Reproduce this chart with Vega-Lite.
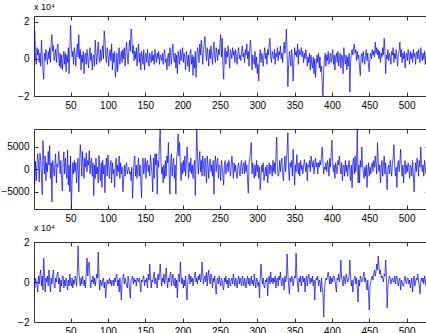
{
"$schema":"https://vega.github.io/schema/vega-lite/v6.json",
"padding":{"left":0,"top":2,"right":0,"bottom":0},
"background":"white",
"config":{
 "font":"Liberation Sans",
 "view":{"stroke":"#333333","strokeWidth":1},
 "axis":{"grid":false,"domain":false,"labelFont":"Liberation Sans","labelFontSize":10,"labelColor":"#000000","tickColor":"#333333","tickSize":-4,"title":null},
 "axisX":{"labelPadding":8},
 "axisY":{"labelPadding":9},
 "title":{"anchor":"start","frame":"group","font":"Liberation Sans","fontSize":9,"fontWeight":"normal","color":"#000000","offset":4}
},
"datasets":{"d":[
{"t":1,"a":0.2,"b":-4500,"c":0.1},{"t":2,"a":1.5,"b":-3000,"c":-0.3},{"t":3,"a":0.1,"b":1800,"c":0.2},{"t":4,"a":-0.3,"b":-2500,"c":0.0},{"t":5,"a":0.6,"b":1000,"c":-0.2},{"t":6,"a":0.2,"b":3500,"c":-0.5},{"t":7,"a":0.5,"b":1200,"c":0.3},{"t":8,"a":-0.2,"b":-2800,"c":-0.1},{"t":9,"a":0.3,"b":3600,"c":0.4},{"t":10,"a":-0.4,"b":2000,"c":0.6},
{"t":11,"a":1.0,"b":-1500,"c":-0.2},{"t":12,"a":0.2,"b":-5600,"c":0.3},{"t":13,"a":-0.6,"b":6400,"c":-0.4},{"t":14,"a":-1.1,"b":2000,"c":1.2},{"t":15,"a":0.3,"b":-1000,"c":0.4},{"t":16,"a":-0.1,"b":3000,"c":-0.5},{"t":17,"a":0.5,"b":-2500,"c":0.2},{"t":18,"a":0.1,"b":1500,"c":0.0},{"t":19,"a":-0.3,"b":-500,"c":0.3},{"t":20,"a":0.4,"b":4000,"c":-0.2},
{"t":21,"a":0.0,"b":1000,"c":0.6},{"t":22,"a":0.6,"b":5300,"c":0.1},{"t":23,"a":-0.2,"b":-2000,"c":-0.5},{"t":24,"a":0.9,"b":1500,"c":0.2},{"t":25,"a":1.3,"b":-7200,"c":-0.1},{"t":26,"a":0.4,"b":2000,"c":0.3},{"t":27,"a":0.7,"b":500,"c":0.6},{"t":28,"a":-0.1,"b":-1500,"c":-0.2},{"t":29,"a":0.2,"b":1000,"c":-0.3},{"t":30,"a":0.5,"b":3500,"c":0.2},
{"t":31,"a":-0.2,"b":-3000,"c":0.0},{"t":32,"a":0.6,"b":1200,"c":0.4},{"t":33,"a":0.8,"b":500,"c":0.5},{"t":34,"a":0.1,"b":4000,"c":-0.1},{"t":35,"a":-0.4,"b":2500,"c":0.2},{"t":36,"a":0.3,"b":-1000,"c":-0.5},{"t":37,"a":-0.5,"b":2000,"c":0.1},{"t":38,"a":0.2,"b":-2500,"c":-0.2},{"t":39,"a":-0.6,"b":-4800,"c":0.3},{"t":40,"a":0.0,"b":1500,"c":0.3},
{"t":41,"a":0.4,"b":3900,"c":-0.3},{"t":42,"a":-0.3,"b":-1000,"c":0.1},{"t":43,"a":0.3,"b":2500,"c":-0.2},{"t":44,"a":-0.7,"b":0,"c":0.2},{"t":45,"a":0.2,"b":-2000,"c":0.0},{"t":46,"a":-0.2,"b":4300,"c":-0.4},{"t":47,"a":0.6,"b":-3500,"c":0.1},{"t":48,"a":-0.8,"b":1000,"c":-0.2},{"t":49,"a":0.5,"b":-5000,"c":0.4},{"t":50,"a":1.8,"b":3000,"c":0.0},
{"t":51,"a":0.7,"b":-8700,"c":-0.2},{"t":52,"a":0.1,"b":-2500,"c":0.2},{"t":53,"a":0.4,"b":1500,"c":-0.3},{"t":54,"a":-0.3,"b":-1000,"c":0.1},{"t":55,"a":0.6,"b":2000,"c":-0.1},{"t":56,"a":0.2,"b":-500,"c":0.3},{"t":57,"a":-0.4,"b":1500,"c":0.2},{"t":58,"a":0.3,"b":-3000,"c":-0.2},{"t":59,"a":0.8,"b":500,"c":0.4},{"t":60,"a":0.1,"b":2500,"c":1.8},
{"t":61,"a":1.3,"b":-5000,"c":0.6},{"t":62,"a":0.0,"b":1000,"c":0.1},{"t":63,"a":0.5,"b":5500,"c":-0.2},{"t":64,"a":-0.6,"b":3000,"c":0.2},{"t":65,"a":0.2,"b":-1500,"c":-0.1},{"t":66,"a":-0.2,"b":4000,"c":0.3},{"t":67,"a":0.4,"b":1000,"c":0.0},{"t":68,"a":-0.8,"b":-2000,"c":-0.2},{"t":69,"a":0.2,"b":2500,"c":0.1},{"t":70,"a":0.3,"b":500,"c":-0.3},
{"t":71,"a":-0.3,"b":3700,"c":0.5},{"t":72,"a":0.5,"b":-500,"c":1.2},{"t":73,"a":0.1,"b":2000,"c":0.3},{"t":74,"a":-0.5,"b":1000,"c":0.9},{"t":75,"a":0.2,"b":4200,"c":1.0},{"t":76,"a":0.6,"b":-1000,"c":0.2},{"t":77,"a":-0.1,"b":1500,"c":-0.3},{"t":78,"a":0.3,"b":2500,"c":0.1},{"t":79,"a":-0.6,"b":-1500,"c":0.0},{"t":80,"a":0.1,"b":1500,"c":0.3},
{"t":81,"a":0.2,"b":-5800,"c":-0.1},{"t":82,"a":-0.4,"b":1000,"c":0.2},{"t":83,"a":1.0,"b":-2000,"c":-0.2},{"t":84,"a":0.3,"b":2500,"c":0.1},{"t":85,"a":-0.3,"b":-1000,"c":0.4},{"t":86,"a":0.4,"b":500,"c":0.2},{"t":87,"a":0.9,"b":-3000,"c":1.5},{"t":88,"a":0.1,"b":3100,"c":0.3},{"t":89,"a":-0.2,"b":500,"c":-0.4},{"t":90,"a":0.5,"b":-2500,"c":0.1},
{"t":91,"a":-0.1,"b":1500,"c":0.0},{"t":92,"a":0.3,"b":-4000,"c":-0.2},{"t":93,"a":0.7,"b":2000,"c":0.1},{"t":94,"a":0.0,"b":-1000,"c":0.2},{"t":95,"a":1.5,"b":1000,"c":-0.3},{"t":96,"a":1.1,"b":-5200,"c":0.0},{"t":97,"a":0.2,"b":500,"c":-0.8},{"t":98,"a":-0.2,"b":2500,"c":-0.2},{"t":99,"a":0.6,"b":-1500,"c":0.1},{"t":100,"a":0.3,"b":3200,"c":-0.1},
{"t":101,"a":-0.4,"b":1000,"c":0.0},{"t":102,"a":0.2,"b":-2000,"c":0.2},{"t":103,"a":0.5,"b":500,"c":-0.1},{"t":104,"a":-0.1,"b":2000,"c":0.1},{"t":105,"a":0.8,"b":-3000,"c":-0.2},{"t":106,"a":-0.6,"b":1500,"c":0.0},{"t":107,"a":0.3,"b":-1000,"c":0.1},{"t":108,"a":-0.2,"b":0,"c":-0.2},{"t":109,"a":0.4,"b":-4000,"c":0.2},{"t":110,"a":-1.0,"b":1000,"c":0.0},
{"t":111,"a":-0.5,"b":2500,"c":0.3},{"t":112,"a":0.3,"b":-1500,"c":0.4},{"t":113,"a":-0.7,"b":1000,"c":-0.2},{"t":114,"a":0.2,"b":-500,"c":0.1},{"t":115,"a":0.6,"b":3000,"c":-0.5},{"t":116,"a":-0.3,"b":-2000,"c":0.2},{"t":117,"a":0.1,"b":1500,"c":-0.3},{"t":118,"a":0.4,"b":-1000,"c":-0.9},{"t":119,"a":-0.2,"b":500,"c":0.1},{"t":120,"a":0.5,"b":-5000,"c":0.2},
{"t":121,"a":0.0,"b":-2500,"c":0.4},{"t":122,"a":0.6,"b":1000,"c":-0.1},{"t":123,"a":-0.4,"b":-1500,"c":0.2},{"t":124,"a":0.3,"b":500,"c":0.0},{"t":125,"a":0.9,"b":1500,"c":-0.2},{"t":126,"a":0.2,"b":-1000,"c":-0.3},{"t":127,"a":-0.3,"b":0,"c":0.3},{"t":128,"a":0.5,"b":500,"c":0.0},{"t":129,"a":1.0,"b":-1000,"c":-0.4},{"t":130,"a":0.4,"b":-500,"c":-0.8},
{"t":131,"a":1.6,"b":-2500,"c":0.1},{"t":132,"a":1.2,"b":500,"c":0.2},{"t":133,"a":0.3,"b":-6400,"c":0.3},{"t":134,"a":0.7,"b":-2000,"c":-0.1},{"t":135,"a":-0.1,"b":2000,"c":0.2},{"t":136,"a":0.4,"b":3000,"c":0.0},{"t":137,"a":0.0,"b":-1500,"c":0.1},{"t":138,"a":0.6,"b":1000,"c":-0.2},{"t":139,"a":-0.4,"b":-2000,"c":0.2},{"t":140,"a":0.2,"b":500,"c":0.1},
{"t":141,"a":0.8,"b":2500,"c":0.0},{"t":142,"a":-0.2,"b":-1500,"c":0.2},{"t":143,"a":0.3,"b":1000,"c":-0.1},{"t":144,"a":-0.6,"b":-2500,"c":-0.5},{"t":145,"a":0.4,"b":-6300,"c":0.1},{"t":146,"a":0.1,"b":1000,"c":0.0},{"t":147,"a":-0.3,"b":2500,"c":0.2},{"t":148,"a":0.5,"b":-1000,"c":0.3},{"t":149,"a":-0.6,"b":500,"c":-0.2},{"t":150,"a":0.2,"b":2500,"c":0.1},
{"t":151,"a":0.3,"b":-2000,"c":0.0},{"t":152,"a":-0.2,"b":1500,"c":0.2},{"t":153,"a":0.5,"b":2000,"c":-0.3},{"t":154,"a":0.0,"b":-500,"c":0.4},{"t":155,"a":-0.4,"b":1000,"c":0.1},{"t":156,"a":0.3,"b":-1500,"c":0.9},{"t":157,"a":0.1,"b":3200,"c":0.2},{"t":158,"a":-0.2,"b":1000,"c":-0.3},{"t":159,"a":0.4,"b":-1000,"c":0.1},{"t":160,"a":-0.1,"b":-5000,"c":0.0},
{"t":161,"a":0.2,"b":2500,"c":0.3},{"t":162,"a":-0.3,"b":-2000,"c":0.5},{"t":163,"a":0.5,"b":3500,"c":-0.1},{"t":164,"a":0.1,"b":1000,"c":0.2},{"t":165,"a":-0.2,"b":3500,"c":0.0},{"t":166,"a":0.3,"b":-5500,"c":-0.3},{"t":167,"a":0.0,"b":2000,"c":0.4},{"t":168,"a":0.4,"b":500,"c":0.1},{"t":169,"a":-0.3,"b":6000,"c":0.3},{"t":170,"a":0.2,"b":8900,"c":0.9},
{"t":171,"a":0.1,"b":2000,"c":0.3},{"t":172,"a":-0.1,"b":-1000,"c":-0.2},{"t":173,"a":0.3,"b":500,"c":0.2},{"t":174,"a":-0.3,"b":-3000,"c":0.0},{"t":175,"a":0.2,"b":1000,"c":0.4},{"t":176,"a":0.5,"b":-2000,"c":-0.1},{"t":177,"a":-0.2,"b":2000,"c":0.2},{"t":178,"a":0.0,"b":-1500,"c":0.7},{"t":179,"a":-0.6,"b":3000,"c":0.1},{"t":180,"a":0.1,"b":1500,"c":-0.3},
{"t":181,"a":0.3,"b":6000,"c":0.2},{"t":182,"a":-0.4,"b":-1000,"c":0.0},{"t":183,"a":0.6,"b":-5500,"c":0.3},{"t":184,"a":0.2,"b":1500,"c":0.5},{"t":185,"a":-0.3,"b":3500,"c":-0.2},{"t":186,"a":0.4,"b":-1500,"c":0.1},{"t":187,"a":0.8,"b":1000,"c":0.4},{"t":188,"a":0.1,"b":2500,"c":-0.1},{"t":189,"a":-0.2,"b":-2000,"c":-0.2},{"t":190,"a":0.3,"b":1000,"c":0.2},
{"t":191,"a":-0.5,"b":-5500,"c":-0.3},{"t":192,"a":0.2,"b":2500,"c":0.1},{"t":193,"a":-0.8,"b":4000,"c":-0.8},{"t":194,"a":0.4,"b":7900,"c":0.2},{"t":195,"a":0.1,"b":3000,"c":0.4},{"t":196,"a":-0.3,"b":6000,"c":0.0},{"t":197,"a":0.5,"b":1000,"c":1.0},{"t":198,"a":-0.1,"b":-2500,"c":0.3},{"t":199,"a":0.2,"b":1500,"c":-0.1},{"t":200,"a":0.6,"b":-1000,"c":0.2},
{"t":201,"a":-0.2,"b":2000,"c":-0.3},{"t":202,"a":0.3,"b":-500,"c":0.1},{"t":203,"a":0.0,"b":3000,"c":-0.2},{"t":204,"a":-0.6,"b":-1500,"c":0.3},{"t":205,"a":0.4,"b":1000,"c":-0.4},{"t":206,"a":0.1,"b":5000,"c":-0.9},{"t":207,"a":-0.4,"b":2000,"c":0.1},{"t":208,"a":0.2,"b":-2000,"c":0.2},{"t":209,"a":-0.7,"b":1500,"c":0.4},{"t":210,"a":0.3,"b":-500,"c":-0.1},
{"t":211,"a":0.5,"b":2500,"c":0.3},{"t":212,"a":-0.3,"b":-1000,"c":0.0},{"t":213,"a":0.2,"b":1000,"c":0.2},{"t":214,"a":-0.9,"b":-2000,"c":-0.2},{"t":215,"a":0.1,"b":500,"c":0.1},{"t":216,"a":-0.5,"b":2000,"c":0.3},{"t":217,"a":0.4,"b":-5800,"c":0.5},{"t":218,"a":-1.0,"b":2000,"c":0.0},{"t":219,"a":0.0,"b":8900,"c":0.2},{"t":220,"a":0.6,"b":3000,"c":-0.1},
{"t":221,"a":0.3,"b":-1000,"c":0.3},{"t":222,"a":-0.2,"b":1500,"c":0.1},{"t":223,"a":0.8,"b":4000,"c":0.4},{"t":224,"a":0.2,"b":-500,"c":0.0},{"t":225,"a":1.0,"b":2000,"c":0.2},{"t":226,"a":0.4,"b":-1500,"c":1.0},{"t":227,"a":-0.3,"b":3000,"c":0.4},{"t":228,"a":0.5,"b":1000,"c":-0.1},{"t":229,"a":0.9,"b":-1500,"c":0.2},{"t":230,"a":1.2,"b":2500,"c":0.3},
{"t":231,"a":0.3,"b":500,"c":0.0},{"t":232,"a":-0.1,"b":-3000,"c":0.5},{"t":233,"a":0.6,"b":3000,"c":-0.2},{"t":234,"a":0.2,"b":1000,"c":0.3},{"t":235,"a":-0.4,"b":-2000,"c":0.6},{"t":236,"a":0.5,"b":1500,"c":0.1},{"t":237,"a":0.0,"b":2300,"c":-0.1},{"t":238,"a":0.7,"b":-500,"c":0.4},{"t":239,"a":0.2,"b":1000,"c":0.2},{"t":240,"a":-0.3,"b":-1500,"c":-0.3},
{"t":241,"a":0.4,"b":2000,"c":0.2},{"t":242,"a":0.9,"b":-5500,"c":0.0},{"t":243,"a":0.1,"b":1000,"c":0.3},{"t":244,"a":-0.2,"b":3000,"c":-0.2},{"t":245,"a":0.6,"b":-500,"c":-0.6},{"t":246,"a":0.3,"b":1500,"c":0.1},{"t":247,"a":-0.1,"b":2500,"c":0.2},{"t":248,"a":0.5,"b":-2000,"c":-0.1},{"t":249,"a":0.2,"b":1000,"c":0.3},{"t":250,"a":0.8,"b":500,"c":0.0},
{"t":251,"a":1.3,"b":-2500,"c":-0.2},{"t":252,"a":0.1,"b":2000,"c":0.2},{"t":253,"a":1.1,"b":500,"c":0.1},{"t":254,"a":-0.4,"b":-1500,"c":-0.3},{"t":255,"a":-1.1,"b":-3500,"c":-0.4},{"t":256,"a":0.2,"b":1000,"c":0.2},{"t":257,"a":0.6,"b":2000,"c":0.0},{"t":258,"a":-0.3,"b":-1000,"c":0.3},{"t":259,"a":0.4,"b":500,"c":-0.1},{"t":260,"a":0.1,"b":1500,"c":0.1},
{"t":261,"a":0.7,"b":-500,"c":-0.3},{"t":262,"a":0.2,"b":2000,"c":0.2},{"t":263,"a":-0.5,"b":1000,"c":0.0},{"t":264,"a":0.5,"b":-1500,"c":-0.2},{"t":265,"a":0.3,"b":500,"c":0.1},{"t":266,"a":0.0,"b":3000,"c":0.2},{"t":267,"a":0.6,"b":1000,"c":-0.1},{"t":268,"a":0.2,"b":-2000,"c":0.4},{"t":269,"a":0.4,"b":1500,"c":0.1},{"t":270,"a":-0.2,"b":-500,"c":-0.2},
{"t":271,"a":0.5,"b":1000,"c":0.2},{"t":272,"a":0.1,"b":-1000,"c":0.0},{"t":273,"a":-0.3,"b":-2000,"c":-0.3},{"t":274,"a":0.3,"b":500,"c":0.1},{"t":275,"a":0.6,"b":1500,"c":0.3},{"t":276,"a":0.0,"b":-500,"c":-0.1},{"t":277,"a":0.2,"b":-1500,"c":0.2},{"t":278,"a":-0.1,"b":1000,"c":0.0},{"t":279,"a":0.4,"b":2000,"c":-0.2},{"t":280,"a":0.7,"b":-1000,"c":0.3},
{"t":281,"a":0.1,"b":500,"c":0.1},{"t":282,"a":0.3,"b":1500,"c":-0.2},{"t":283,"a":-0.2,"b":-1000,"c":0.2},{"t":284,"a":0.5,"b":2000,"c":0.0},{"t":285,"a":0.2,"b":-500,"c":-0.3},{"t":286,"a":0.8,"b":1000,"c":0.1},{"t":287,"a":0.0,"b":-2500,"c":0.3},{"t":288,"a":0.4,"b":-5300,"c":-0.1},{"t":289,"a":-0.4,"b":1500,"c":0.2},{"t":290,"a":0.6,"b":2500,"c":-0.2},
{"t":291,"a":1.0,"b":4000,"c":0.0},{"t":292,"a":0.3,"b":6000,"c":0.3},{"t":293,"a":-0.6,"b":-1000,"c":-0.1},{"t":294,"a":0.2,"b":1500,"c":0.1},{"t":295,"a":0.0,"b":-500,"c":-0.2},{"t":296,"a":-0.3,"b":-2000,"c":0.4},{"t":297,"a":0.4,"b":1000,"c":0.0},{"t":298,"a":-0.5,"b":-1500,"c":-0.3},{"t":299,"a":0.1,"b":2000,"c":0.2},{"t":300,"a":-0.8,"b":-500,"c":0.1},
{"t":301,"a":-0.3,"b":1000,"c":-0.2},{"t":302,"a":-1.2,"b":-2000,"c":0.0},{"t":303,"a":0.2,"b":500,"c":-0.8},{"t":304,"a":0.5,"b":-4500,"c":0.2},{"t":305,"a":-0.2,"b":-1500,"c":0.9},{"t":306,"a":0.3,"b":1000,"c":0.3},{"t":307,"a":0.1,"b":-500,"c":-0.1},{"t":308,"a":-0.4,"b":1500,"c":0.2},{"t":309,"a":0.2,"b":-2500,"c":-0.2},{"t":310,"a":0.6,"b":-1000,"c":-0.3},
{"t":311,"a":0.0,"b":500,"c":0.1},{"t":312,"a":0.3,"b":-1500,"c":0.0},{"t":313,"a":-0.3,"b":1000,"c":0.2},{"t":314,"a":0.5,"b":-3000,"c":-0.7},{"t":315,"a":0.2,"b":-500,"c":0.1},{"t":316,"a":0.8,"b":1500,"c":0.3},{"t":317,"a":1.1,"b":-1000,"c":-0.1},{"t":318,"a":0.1,"b":1000,"c":0.5},{"t":319,"a":-0.2,"b":500,"c":0.0},{"t":320,"a":0.4,"b":-1500,"c":0.2},
{"t":321,"a":0.2,"b":2000,"c":-0.1},{"t":322,"a":0.0,"b":-500,"c":0.2},{"t":323,"a":0.5,"b":1500,"c":0.0},{"t":324,"a":-0.3,"b":-1000,"c":0.3},{"t":325,"a":0.3,"b":3000,"c":-0.3},{"t":326,"a":0.1,"b":7200,"c":0.1},{"t":327,"a":0.6,"b":500,"c":0.2},{"t":328,"a":-0.1,"b":-1500,"c":-0.2},{"t":329,"a":0.4,"b":-1000,"c":0.3},{"t":330,"a":0.2,"b":2000,"c":0.1},
{"t":331,"a":0.7,"b":-500,"c":0.5},{"t":332,"a":0.0,"b":1500,"c":0.0},{"t":333,"a":0.3,"b":2500,"c":-0.2},{"t":334,"a":-0.2,"b":-1000,"c":0.2},{"t":335,"a":0.5,"b":-2500,"c":0.1},{"t":336,"a":0.9,"b":500,"c":-0.4},{"t":337,"a":0.3,"b":3000,"c":0.3},{"t":338,"a":0.7,"b":-500,"c":0.0},{"t":339,"a":1.6,"b":2000,"c":0.2},{"t":340,"a":0.2,"b":4000,"c":1.4},
{"t":341,"a":-1.5,"b":8200,"c":0.4},{"t":342,"a":-0.3,"b":-500,"c":-0.1},{"t":343,"a":0.4,"b":-2500,"c":-0.6},{"t":344,"a":0.1,"b":1500,"c":0.2},{"t":345,"a":-0.4,"b":500,"c":0.0},{"t":346,"a":0.5,"b":2000,"c":0.3},{"t":347,"a":0.0,"b":-1500,"c":0.2},{"t":348,"a":-1.2,"b":4500,"c":-0.2},{"t":349,"a":-0.2,"b":1000,"c":0.1},{"t":350,"a":0.6,"b":-3500,"c":0.3},
{"t":351,"a":0.2,"b":1000,"c":0.2},{"t":352,"a":0.4,"b":-500,"c":1.45},{"t":353,"a":0.1,"b":3300,"c":0.3},{"t":354,"a":0.8,"b":500,"c":-0.1},{"t":355,"a":-0.3,"b":-1000,"c":-0.5},{"t":356,"a":0.5,"b":1500,"c":0.2},{"t":357,"a":0.2,"b":-1500,"c":0.0},{"t":358,"a":0.3,"b":2000,"c":0.3},{"t":359,"a":0.6,"b":0,"c":-0.2},{"t":360,"a":0.1,"b":1000,"c":0.1},
{"t":361,"a":0.4,"b":-1000,"c":0.3},{"t":362,"a":-0.2,"b":500,"c":0.0},{"t":363,"a":0.3,"b":2200,"c":0.2},{"t":364,"a":0.0,"b":1000,"c":-0.5},{"t":365,"a":0.5,"b":-500,"c":0.1},{"t":366,"a":0.2,"b":1500,"c":0.3},{"t":367,"a":-0.4,"b":-2500,"c":-0.2},{"t":368,"a":0.1,"b":1000,"c":0.2},{"t":369,"a":-0.2,"b":500,"c":0.4},{"t":370,"a":0.3,"b":2000,"c":0.1},
{"t":371,"a":-0.6,"b":-500,"c":-0.1},{"t":372,"a":0.2,"b":3000,"c":0.2},{"t":373,"a":-0.3,"b":1500,"c":0.0},{"t":374,"a":-0.5,"b":500,"c":0.3},{"t":375,"a":0.1,"b":2000,"c":-0.2},{"t":376,"a":-0.8,"b":-1000,"c":0.1},{"t":377,"a":0.0,"b":1000,"c":-0.9},{"t":378,"a":-1.0,"b":2500,"c":0.0},{"t":379,"a":-0.3,"b":500,"c":0.2},{"t":380,"a":0.2,"b":1500,"c":0.1},
{"t":381,"a":-0.2,"b":-1000,"c":0.3},{"t":382,"a":0.3,"b":1500,"c":-0.2},{"t":383,"a":-0.5,"b":500,"c":0.1},{"t":384,"a":0.1,"b":2000,"c":0.0},{"t":385,"a":-0.7,"b":1000,"c":-0.5},{"t":386,"a":-0.4,"b":3000,"c":0.2},{"t":387,"a":-1.3,"b":5000,"c":-0.3},{"t":388,"a":-2.0,"b":1500,"c":-0.6},{"t":389,"a":-0.6,"b":-1000,"c":-1.75},{"t":390,"a":0.0,"b":500,"c":-0.4},
{"t":391,"a":0.3,"b":0,"c":0.0},{"t":392,"a":-0.4,"b":1500,"c":0.2},{"t":393,"a":0.2,"b":-500,"c":0.1},{"t":394,"a":-0.1,"b":2000,"c":0.3},{"t":395,"a":0.4,"b":1000,"c":0.5},{"t":396,"a":-0.3,"b":-1500,"c":0.2},{"t":397,"a":0.0,"b":2500,"c":-0.1},{"t":398,"a":0.3,"b":500,"c":0.3},{"t":399,"a":-0.2,"b":3500,"c":-0.1},{"t":400,"a":0.1,"b":6500,"c":0.2},
{"t":401,"a":0.5,"b":1500,"c":0.0},{"t":402,"a":-0.3,"b":-500,"c":0.3},{"t":403,"a":0.2,"b":1000,"c":0.3},{"t":404,"a":-0.6,"b":-2000,"c":0.1},{"t":405,"a":0.1,"b":1500,"c":-0.2},{"t":406,"a":0.3,"b":500,"c":-0.5},{"t":407,"a":-0.2,"b":-1000,"c":0.2},{"t":408,"a":0.4,"b":2000,"c":0.1},{"t":409,"a":-0.4,"b":1000,"c":0.4},{"t":410,"a":0.0,"b":3000,"c":0.0},
{"t":411,"a":0.3,"b":500,"c":0.3},{"t":412,"a":-0.5,"b":-1000,"c":1.1},{"t":413,"a":0.2,"b":1500,"c":0.2},{"t":414,"a":0.1,"b":-2500,"c":0.0},{"t":415,"a":-0.8,"b":500,"c":-0.2},{"t":416,"a":0.6,"b":1000,"c":0.3},{"t":417,"a":0.0,"b":-1500,"c":0.1},{"t":418,"a":-0.3,"b":2000,"c":-0.1},{"t":419,"a":0.2,"b":-500,"c":0.4},{"t":420,"a":-0.6,"b":1000,"c":0.2},
{"t":421,"a":0.1,"b":-1500,"c":0.0},{"t":422,"a":-0.4,"b":500,"c":0.1},{"t":423,"a":0.3,"b":2000,"c":0.3},{"t":424,"a":-1.8,"b":-500,"c":1.1},{"t":425,"a":-0.2,"b":-2500,"c":0.2},{"t":426,"a":0.3,"b":1000,"c":-0.2},{"t":427,"a":0.5,"b":-4100,"c":0.1},{"t":428,"a":0.2,"b":1500,"c":-0.5},{"t":429,"a":0.6,"b":2500,"c":0.0},{"t":430,"a":0.8,"b":-1000,"c":0.2},
{"t":431,"a":0.3,"b":3000,"c":0.3},{"t":432,"a":0.5,"b":-500,"c":-0.1},{"t":433,"a":-0.1,"b":1500,"c":0.2},{"t":434,"a":0.4,"b":8900,"c":-0.4},{"t":435,"a":0.0,"b":-3000,"c":-1.0},{"t":436,"a":0.2,"b":1000,"c":0.1},{"t":437,"a":-0.5,"b":-3000,"c":-0.2},{"t":438,"a":-0.9,"b":2000,"c":0.3},{"t":439,"a":0.1,"b":500,"c":0.2},{"t":440,"a":0.3,"b":5000,"c":0.0},
{"t":441,"a":-0.2,"b":1000,"c":0.1},{"t":442,"a":0.4,"b":-500,"c":0.3},{"t":443,"a":0.0,"b":-2000,"c":0.5},{"t":444,"a":-0.3,"b":500,"c":0.0},{"t":445,"a":0.2,"b":-1500,"c":0.2},{"t":446,"a":0.5,"b":1000,"c":-0.1},{"t":447,"a":-0.1,"b":-4000,"c":-0.4},{"t":448,"a":0.3,"b":-500,"c":0.1},{"t":449,"a":-0.4,"b":1500,"c":-0.6},{"t":450,"a":-0.7,"b":-1500,"c":-1.4},
{"t":451,"a":0.1,"b":500,"c":-0.2},{"t":452,"a":0.3,"b":-1000,"c":0.0},{"t":453,"a":0.0,"b":1000,"c":0.2},{"t":454,"a":0.5,"b":1500,"c":0.3},{"t":455,"a":0.2,"b":-500,"c":0.1},{"t":456,"a":0.4,"b":2000,"c":0.4},{"t":457,"a":0.1,"b":500,"c":0.6},{"t":458,"a":0.9,"b":3000,"c":0.3},{"t":459,"a":0.3,"b":1000,"c":0.5},{"t":460,"a":0.6,"b":-1000,"c":0.9},
{"t":461,"a":0.2,"b":6000,"c":0.6},{"t":462,"a":0.5,"b":2000,"c":1.3},{"t":463,"a":0.0,"b":-500,"c":0.8},{"t":464,"a":0.4,"b":1000,"c":0.4},{"t":465,"a":-0.2,"b":-3000,"c":0.6},{"t":466,"a":0.3,"b":500,"c":0.2},{"t":467,"a":0.1,"b":2000,"c":0.3},{"t":468,"a":0.6,"b":-1500,"c":0.2},{"t":469,"a":0.2,"b":1000,"c":0.0},{"t":470,"a":1.1,"b":3000,"c":0.4},
{"t":471,"a":0.4,"b":-1000,"c":0.3},{"t":472,"a":-0.8,"b":1500,"c":1.1},{"t":473,"a":0.2,"b":-2000,"c":0.2},{"t":474,"a":0.0,"b":-4500,"c":-1.3},{"t":475,"a":0.5,"b":500,"c":-0.2},{"t":476,"a":-0.1,"b":1000,"c":0.1},{"t":477,"a":0.3,"b":-1000,"c":0.3},{"t":478,"a":0.1,"b":2000,"c":0.2},{"t":479,"a":-0.3,"b":500,"c":-0.1},{"t":480,"a":0.4,"b":-1500,"c":0.1},
{"t":481,"a":0.2,"b":1500,"c":0.2},{"t":482,"a":0.6,"b":2500,"c":0.0},{"t":483,"a":-0.2,"b":5500,"c":0.0},{"t":484,"a":0.3,"b":1000,"c":0.3},{"t":485,"a":0.0,"b":-1500,"c":-0.1},{"t":486,"a":0.5,"b":500,"c":0.2},{"t":487,"a":0.1,"b":-4000,"c":0.3},{"t":488,"a":-0.4,"b":1000,"c":0.0},{"t":489,"a":0.3,"b":2000,"c":-0.2},{"t":490,"a":0.4,"b":-500,"c":0.1},
{"t":491,"a":0.9,"b":1500,"c":0.2},{"t":492,"a":0.1,"b":4500,"c":-0.4},{"t":493,"a":0.5,"b":500,"c":0.1},{"t":494,"a":-0.2,"b":-1500,"c":0.0},{"t":495,"a":0.3,"b":1000,"c":-0.2},{"t":496,"a":0.0,"b":-3000,"c":-0.2},{"t":497,"a":0.4,"b":500,"c":0.1},{"t":498,"a":-0.5,"b":2000,"c":0.3},{"t":499,"a":0.2,"b":-1000,"c":0.0},{"t":500,"a":0.3,"b":1000,"c":-0.1},
{"t":501,"a":-0.1,"b":-500,"c":0.2},{"t":502,"a":0.5,"b":1500,"c":0.2},{"t":503,"a":0.2,"b":500,"c":-0.1},{"t":504,"a":-0.3,"b":-2000,"c":0.1},{"t":505,"a":0.4,"b":1000,"c":-0.3},{"t":506,"a":0.0,"b":500,"c":0.0},{"t":507,"a":0.3,"b":-1500,"c":0.2},{"t":508,"a":-0.2,"b":2000,"c":-0.5},{"t":509,"a":0.5,"b":-1000,"c":0.1},{"t":510,"a":0.1,"b":-5000,"c":0.3},
{"t":511,"a":0.3,"b":-1000,"c":-0.2},{"t":512,"a":-0.3,"b":1500,"c":0.0},{"t":513,"a":0.2,"b":-500,"c":0.2},{"t":514,"a":0.4,"b":2500,"c":0.1},{"t":515,"a":0.0,"b":1000,"c":0.4},{"t":516,"a":0.5,"b":-1500,"c":0.0},{"t":517,"a":0.1,"b":2000,"c":-0.2},{"t":518,"a":-0.2,"b":500,"c":-0.6},{"t":519,"a":0.6,"b":5000,"c":0.1},{"t":520,"a":0.2,"b":1000,"c":0.2},
{"t":521,"a":-0.1,"b":-500,"c":0.0},{"t":522,"a":0.3,"b":1000,"c":0.2},{"t":523,"a":0.0,"b":-1500,"c":-0.1},{"t":524,"a":0.4,"b":2000,"c":0.3},{"t":525,"a":-0.3,"b":500,"c":0.1},{"t":526,"a":0.2,"b":-1000,"c":-0.2},{"t":527,"a":0.5,"b":1500,"c":0.2},{"t":528,"a":0.1,"b":3000,"c":0.4},{"t":529,"a":0.3,"b":500,"c":0.3},{"t":530,"a":1.0,"b":1500,"c":1.0}
]},
"data":{"name":"d"},
"vconcat":[
 {"width":395,"height":80,
  "title":{"text":"x 10⁴"},
  "layer":[
   {"mark":{"type":"line","color":"#0000ff","strokeWidth":0.7,"clip":true},
    "encoding":{
     "x":{"field":"t","type":"quantitative","scale":{"domain":[1,530],"nice":false,"zero":false},"axis":{"values":[50,100,150,200,250,300,350,400,450,500]}},
     "y":{"field":"a","type":"quantitative","scale":{"domain":[-2,2.3],"nice":false,"zero":false},"axis":{"values":[-2,0,2],"minExtent":30,"maxExtent":30}}}},
   {"mark":{"type":"line","opacity":0,"clip":true},
    "encoding":{
     "x":{"field":"t","type":"quantitative","scale":{"domain":[1,530],"nice":false,"zero":false},"axis":{"orient":"top","labels":false,"values":[50,100,150,200,250,300,350,400,450,500],"minExtent":0,"maxExtent":0}},
     "y":{"field":"a","type":"quantitative","scale":{"domain":[-2,2.3],"nice":false,"zero":false},"axis":{"orient":"right","labels":false,"values":[-2,0,2],"minExtent":0,"maxExtent":0}}}}
  ],
  "resolve":{"axis":{"x":"independent","y":"independent"}}},
 {"width":395,"height":80,
  "layer":[
   {"mark":{"type":"line","color":"#0000ff","strokeWidth":0.7,"clip":true},
    "encoding":{
     "x":{"field":"t","type":"quantitative","scale":{"domain":[1,530],"nice":false,"zero":false},"axis":{"values":[50,100,150,200,250,300,350,400,450,500]}},
     "y":{"field":"b","type":"quantitative","scale":{"domain":[-8800,9000],"nice":false,"zero":false},"axis":{"values":[-5000,0,5000],"format":"d","minExtent":30,"maxExtent":30}}}},
   {"mark":{"type":"line","opacity":0,"clip":true},
    "encoding":{
     "x":{"field":"t","type":"quantitative","scale":{"domain":[1,530],"nice":false,"zero":false},"axis":{"orient":"top","labels":false,"values":[50,100,150,200,250,300,350,400,450,500],"minExtent":0,"maxExtent":0}},
     "y":{"field":"b","type":"quantitative","scale":{"domain":[-8800,9000],"nice":false,"zero":false},"axis":{"orient":"right","labels":false,"values":[-5000,0,5000],"minExtent":0,"maxExtent":0}}}}
  ],
  "resolve":{"axis":{"x":"independent","y":"independent"}}},
 {"width":395,"height":80,
  "title":{"text":"x 10⁴"},
  "layer":[
   {"mark":{"type":"line","color":"#0000ff","strokeWidth":0.7,"clip":true},
    "encoding":{
     "x":{"field":"t","type":"quantitative","scale":{"domain":[1,530],"nice":false,"zero":false},"axis":{"values":[50,100,150,200,250,300,350,400,450,500]}},
     "y":{"field":"c","type":"quantitative","scale":{"domain":[-2,2],"nice":false,"zero":false},"axis":{"values":[-2,0,2],"minExtent":30,"maxExtent":30}}}},
   {"mark":{"type":"line","opacity":0,"clip":true},
    "encoding":{
     "x":{"field":"t","type":"quantitative","scale":{"domain":[1,530],"nice":false,"zero":false},"axis":{"orient":"top","labels":false,"values":[50,100,150,200,250,300,350,400,450,500],"minExtent":0,"maxExtent":0}},
     "y":{"field":"c","type":"quantitative","scale":{"domain":[-2,2],"nice":false,"zero":false},"axis":{"orient":"right","labels":false,"values":[-2,0,2],"minExtent":0,"maxExtent":0}}}}
  ],
  "resolve":{"axis":{"x":"independent","y":"independent"}}}
],
"spacing":33,
"bounds":"flush"
}
